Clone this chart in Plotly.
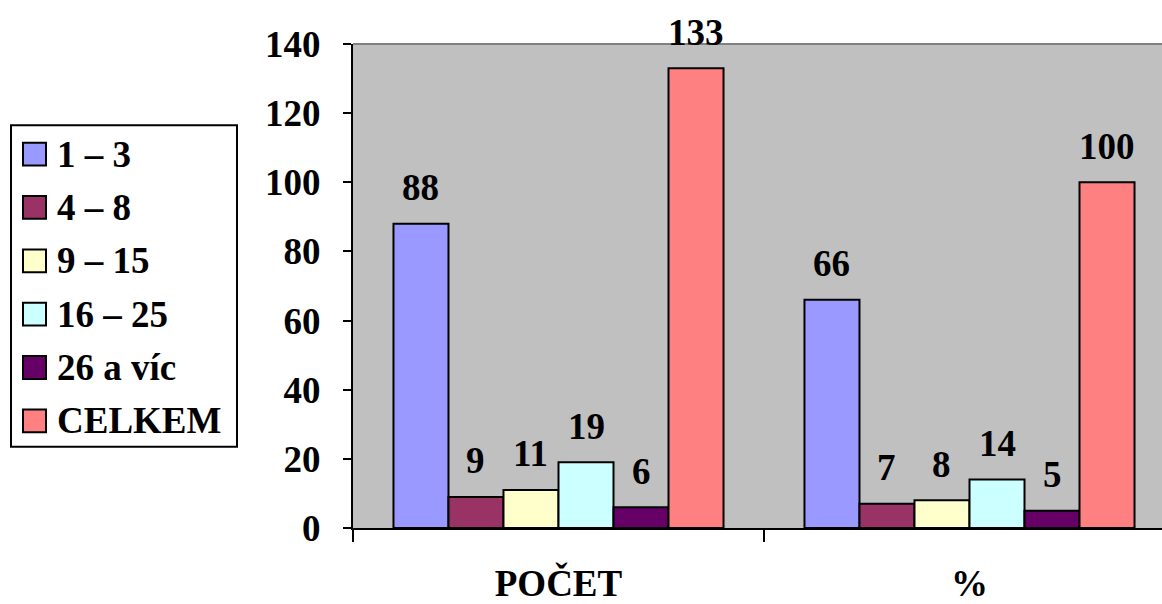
import plotly.graph_objects as go

categories = ["POČET", "%"]
series_names = ["1 – 3", "4 – 8", "9 – 15", "16 – 25", "26 a víc", "CELKEM"]
values_1_3 = [88, 66]
values_4_8 = [9, 7]
values_9_15 = [11, 8]
values_16_25 = [19, 14]
values_26 = [6, 5]
values_celkem = [133, 100]
series_values = [values_1_3, values_4_8, values_9_15, values_16_25, values_26, values_celkem]
colors = ["#9999FF", "#993366", "#FFFFCC", "#CCFFFF", "#660066", "#FF8080"]
y_ticks = [0, 20, 40, 60, 80, 100, 120, 140]

FONT = "'Liberation Serif', 'Times New Roman', Times, serif"
FS = 37
W, H = 1162, 604
L, T, B = 353, 44, 72
PW = W - L
PH = H - T - B
CAT_PX = 411
BARGAP = 0.197
BAR_PX = CAT_PX * (1 - BARGAP) / len(series_names)

fig = go.Figure()
for name, vals, col in zip(series_names, series_values, colors):
    fig.add_trace(go.Bar(
        x=categories, y=vals, name=name, showlegend=False,
        marker=dict(color=col, line=dict(color="black", width=2)),
    ))

annotations = []
n = len(series_names)
for i, vals in enumerate(series_values):
    for c, v in zip(categories, vals):
        annotations.append(dict(
            x=c, y=v, xref="x", yref="y", text=f"<b>{v}</b>", showarrow=False,
            xshift=(i - (n - 1) / 2) * BAR_PX, yshift=36, yanchor="middle",
            font=dict(family=FONT, size=FS, color="black"),
        ))

# legend drawn in paper coordinates
def px_x(p):
    return (p - L) / PW

def px_y(p):
    return (T + PH - p) / PH

shapes = [
    dict(type="rect", xref="paper", yref="paper", x0=px_x(11), x1=px_x(237), y0=px_y(126), y1=px_y(450),
         line=dict(color="black", width=2), fillcolor="white", layer="above"),
    dict(type="line", xref="paper", yref="paper", x0=0, x1=1, y0=1, y1=1,
         line=dict(color="#808080", width=2), layer="above"),
]
for i, (name, col) in enumerate(zip(series_names, colors)):
    cy = 155 + i * 53.8
    shapes.append(dict(type="rect", xref="paper", yref="paper",
                       x0=px_x(23), x1=px_x(46), y0=px_y(cy - 11.5), y1=px_y(cy + 11.5),
                       fillcolor=col, line=dict(color="black", width=2), layer="above"))
    annotations.append(dict(x=px_x(55), y=px_y(cy), xref="paper", yref="paper", text=f"<b>{name}</b>",
                            showarrow=False, xanchor="left", yanchor="middle",
                            font=dict(family=FONT, size=FS, color="black")))

fig.update_layout(
    width=W, height=H,
    margin=dict(l=L, r=0, t=T, b=B, pad=0),
    paper_bgcolor="white", plot_bgcolor="#C0C0C0",
    barmode="group", bargap=BARGAP, bargroupgap=0,
    showlegend=False,
    annotations=annotations, shapes=shapes,
    font=dict(family=FONT, size=FS, color="black"),
)
fig.update_xaxes(
    range=[-0.5, -0.5 + PW / CAT_PX], showgrid=False, zeroline=False,
    showline=True, linecolor="black", linewidth=2,
    ticks="outside", tickson="boundaries", ticklen=12, tickwidth=2, tickcolor="black",
    tickfont=dict(family=FONT, size=FS, color="black"), ticklabelstandoff=22,
    tickprefix="<b>", ticksuffix="</b>",
)
fig.update_yaxes(
    range=[0, 140], tickvals=y_ticks, ticktext=[f"<b>{v}</b>" for v in y_ticks],
    showgrid=False, zeroline=False,
    showline=True, linecolor="black", linewidth=2,
    ticks="outside", ticklen=8, tickwidth=2, tickcolor="black",
    tickfont=dict(family=FONT, size=FS, color="black"), ticklabelstandoff=15,
)

fig.write_html("out.html", config={"displayModeBar": False},
               post_script="document.body.style.margin='0';document.body.style.overflow='hidden';")
